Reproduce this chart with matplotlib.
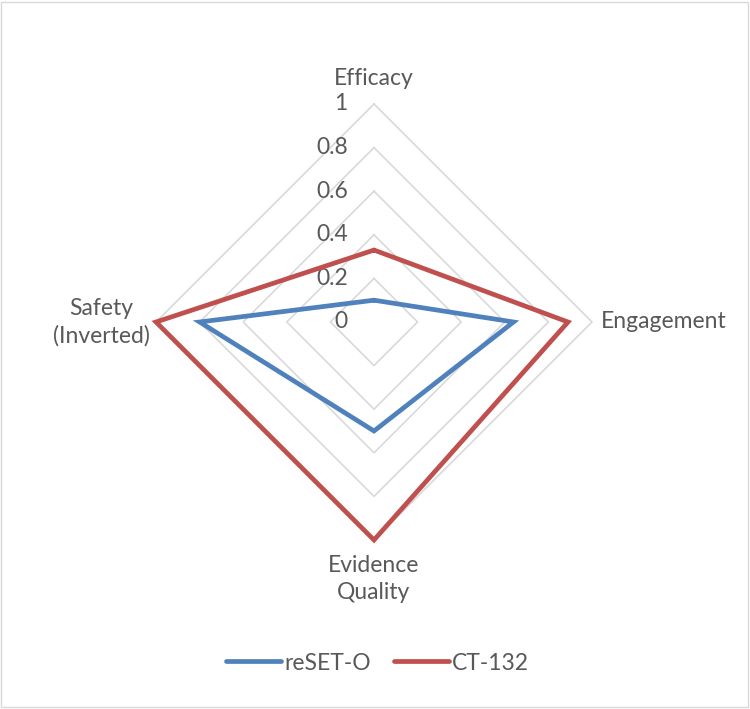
import matplotlib.pyplot as plt
import numpy as np
from matplotlib.patches import Rectangle

categories = ['Efficacy', 'Engagement', 'Evidence\nQuality', 'Safety\n(Inverted)']
reset_o = [0.1, 0.64, 0.5, 0.8]
ct_132 = [0.33, 0.89, 1.0, 1.0]
ticks = [0, 0.2, 0.4, 0.6, 0.8, 1.0]
tick_labels = ['0', '0.2', '0.4', '0.6', '0.8', '1']

plt.rcParams['font.family'] = ['Lato', 'DejaVu Sans']
text_color = '#595959'
fs = 16.5

# clockwise from the top
angles = np.pi / 2 - np.arange(len(categories)) * 2 * np.pi / len(categories)


def to_xy(values):
    v = np.asarray(values, dtype=float)
    x = v * np.cos(angles)
    y = v * np.sin(angles)
    return np.append(x, x[0]), np.append(y, y[0])


W, H = 750, 709
cx, cy, r = 374, 322, 218
fig = plt.figure(figsize=(W / 100, H / 100), dpi=100)
ax = fig.add_axes([0, 0, 1, 1])
ax.set_xlim(-cx / r, (W - cx) / r)
ax.set_ylim(-(H - cy) / r, cy / r)
ax.axis('off')

# diamond grid
for t in ticks[1:]:
    gx, gy = to_xy([t] * len(categories))
    ax.plot(gx, gy, color='#d9d9d9', lw=1.2, zorder=1)
for t, lab in zip(ticks, tick_labels):
    ax.text(-0.12, t, lab, ha='right', va='center', fontsize=fs,
            color=text_color, zorder=2)

x1, y1 = to_xy(reset_o)
x2, y2 = to_xy(ct_132)
ax.plot(x1, y1, color='#4f81bd', lw=3.4, label='reSET-O', zorder=3,
        solid_joinstyle='miter', solid_capstyle='round')
ax.plot(x2, y2, color='#c0504d', lw=3.4, label='CT-132', zorder=3,
        solid_joinstyle='miter', solid_capstyle='round')

# axis labels
ax.text(0, 1.115, categories[0], ha='center', va='center', fontsize=fs, color=text_color)
ax.text(1.04, 0, categories[1], ha='left', va='center', fontsize=fs, color=text_color)
ax.text(0, -1.07, categories[2], ha='center', va='top', fontsize=fs, color=text_color,
        multialignment='center', linespacing=1.35)
ax.text(-1.03, 0, categories[3], ha='right', va='center', fontsize=fs, color=text_color,
        multialignment='center', linespacing=1.35)

leg = fig.legend(loc='center', bbox_to_anchor=(0.503, 1 - 663 / H), ncol=2,
                 frameon=False, fontsize=fs, handlelength=2.4, handletextpad=0.15,
                 columnspacing=1.0)
for t in leg.get_texts():
    t.set_color(text_color)

fig.patches.append(Rectangle((1 / W, 2 / H), 1 - 3 / W, 1 - 4 / H,
                             transform=fig.transFigure, fill=False,
                             edgecolor='#d9d9d9', lw=1))

fig.savefig('out.png', dpi=100)
